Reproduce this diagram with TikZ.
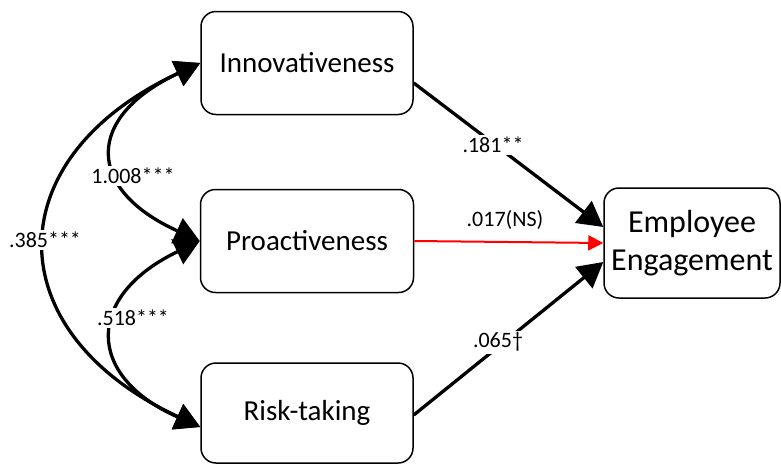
\documentclass[tikz,border=0pt]{standalone}
\usepackage{fontspec}
\setmainfont{Carlito}
\usetikzlibrary{arrows.meta,calc}
\begin{document}
\begin{tikzpicture}[x=1pt,y=-1pt,
  box/.style={draw=black,line width=1.5pt,rounded corners=15pt,align=center,
    font=\fontsize{29}{35}\selectfont,inner sep=0pt},
  path/.style={line width=3.3pt,-{Triangle[length=25pt,width=27pt]}},
  covar/.style={line width=3.3pt,{Triangle[length=25pt,width=27pt]}-{Triangle[length=25pt,width=27pt]}},
  nspath/.style={draw=red,line width=2pt,-{Triangle[length=15pt,width=15pt]}},
  coef/.style={font=\fontsize{22}{26}\selectfont,inner sep=2pt},
  coefcut/.style={coef,fill=white}]
\useasboundingbox (0,0) rectangle (781,464);

% predictor and outcome boxes
\node[box,minimum width=212pt,minimum height=103pt] (inn) at (307,63) {Innovativeness};
\node[box,minimum width=213pt,minimum height=103pt] (pro) at (307,241) {Proactiveness};
\node[box,minimum width=212pt,minimum height=100pt] (risk) at (307,413) {Risk-taking};
\node[box,minimum width=176pt,minimum height=110pt,font=\fontsize{32}{38}\selectfont] (ee) at (692,243) {Employee\\Engagement};

% regression paths
\draw[path] ($(inn.east)+(0,20)$) -- ($(ee.west)+(0,-16)$);
\draw[nspath] (pro.east) -- (ee.west);
\draw[path] ($(risk.east)+(0,2)$) -- ($(ee.west)+(0,19)$);

% covariances between predictors
\coordinate (rtip) at ($(risk.west)+(0,14)$);
\draw[covar] (inn.west) .. controls (85,117) and (85,189) .. (pro.west);
\draw[covar] (pro.west) .. controls (85,296) and (85,376) .. (rtip);
\draw[covar] (inn.west) .. controls (-4,158) and (-4,332) .. (rtip);

% coefficients
\node[coefcut] (c1) at (493,145) {.181**};
\node[coef] (c2) at (505,220) {.017(NS)};
\node[coefcut] (c3) at (498,342) {.065†};
\node[coefcut] (c4) at (133,176) {1.008***};
\node[coefcut] (c5) at (133,318) {.518***};
\node[coefcut] (c6) at (45,240) {.385***};
\end{tikzpicture}
\end{document}
